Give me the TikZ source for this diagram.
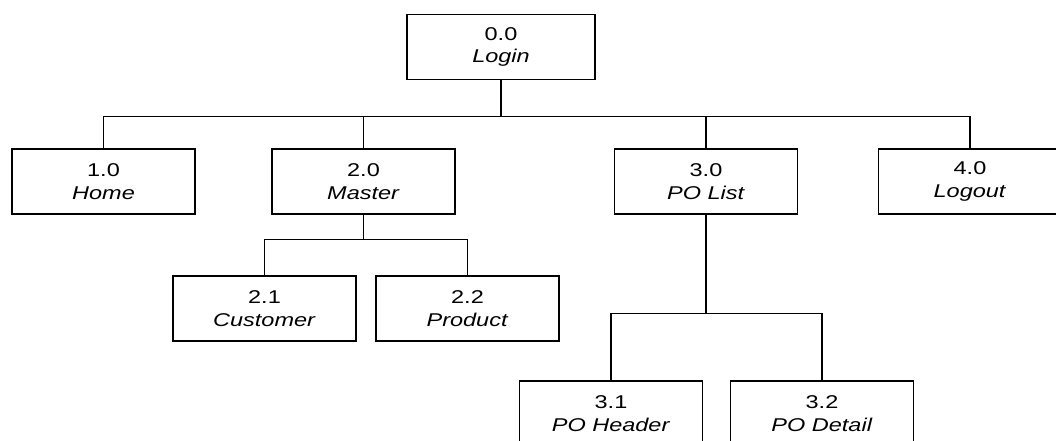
\documentclass[tikz,border=0pt]{standalone}
\usepackage{fontspec}
\setmainfont{Liberation Sans}[FakeStretch=1.27]
\usetikzlibrary{positioning}

\begin{document}
\begin{tikzpicture}[
  x=1pt, y=1pt,
  font=\fontsize{18.5}{22.5}\selectfont,
  box/.style={draw=black, line width=1.2pt, fill=white,
              minimum width=183pt, minimum height=65pt, align=center,
              inner sep=0pt},
  ln/.style={draw=black, line width=1.1pt}
]
\useasboundingbox (0,0) rectangle (1056,440);
\clip (0,0) rectangle (1056,440);

% --- level 0 ---
\node[box, minimum width=188pt] (login) at (501,393) {0.0\\ \textit{Login}};

% --- level 1 ---
\node[box] (home)   at (103.5,258.5) {1.0\\ \textit{Home}};
\node[box] (master) at (363.5,258.5) {2.0\\ \textit{Master}};
\node[box] (polist) at (706,258.5)   {3.0\\ \textit{PO List}};
\node[box] (logout) at (970,258.5)   {4.0\\ \textit{Logout}};

\coordinate (b1) at ([yshift=-36pt]login.south);
\draw[ln] (login.south) -- (b1);
\draw[ln] (home.north) |- (logout.north |- b1) -- (logout.north);
\draw[ln] (master.north) -- (master.north |- b1);
\draw[ln] (polist.north) -- (polist.north |- b1);

% --- level 2: master ---
\node[box] (cust) at (264.5,131.5) {2.1\\ \textit{Customer}};
\node[box] (prod) at (467.5,131.5) {2.2\\ \textit{Product}};

\coordinate (b2) at ([yshift=-25pt]master.south);
\draw[ln] (master.south) -- (b2);
\draw[ln] (cust.north) |- (prod.north |- b2) -- (prod.north);

% --- level 2: po list ---
\node[box] (pohead) at (611,26.5) {3.1\\ \textit{PO Header}};
\node[box] (podet)  at (822,26.5) {3.2\\ \textit{PO Detail}};

\coordinate (b3) at ([yshift=-99pt]polist.south);
\draw[ln] (polist.south) -- (b3);
\draw[ln] (pohead.north) |- (podet.north |- b3) -- (podet.north);
\end{tikzpicture}
\end{document}
